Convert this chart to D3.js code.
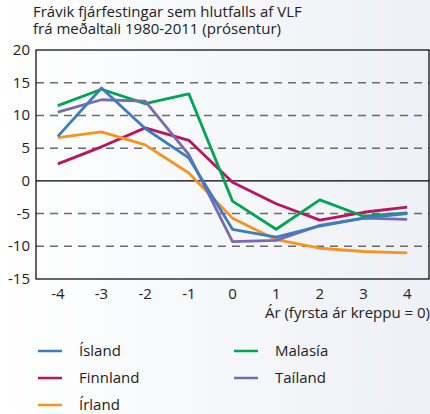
<!DOCTYPE html>
<html>
<head>
<meta charset="utf-8">
<script src="https://cdn.jsdelivr.net/npm/d3@7"></script>
<style>
  body { margin: 0; }
  svg { display: block; font-family: "Open Sans", sans-serif; }
</style>
</head>
<body>
<svg width="430" height="414"></svg>
<script>
// Years relative to first crisis year
const years = [-4, -3, -2, -1, 0, 1, 2, 3, 4];
const yTicks = [-15, -10, -5, 0, 5, 10, 15, 20];

const island = [6.8, 14.2, 8.0, 3.5, -7.4, -8.6, -6.9, -5.7, -5.0];
const finnland = [2.6, 5.2, 8.1, 6.2, -0.2, -3.5, -6.0, -4.8, -4.0];
const irland = [6.6, 7.5, 5.5, 1.2, -5.7, -9.0, -10.3, -10.8, -11.0];
const malasia = [11.5, 14.0, 11.8, 13.3, -3.1, -7.4, -2.9, -5.4, -4.9];
const tailand = [10.5, 12.4, 12.2, 4.0, -9.3, -9.1, -6.8, -5.7, -5.9];

const series = [
  { name: "Finnland", values: finnland, color: "#c0135f" },
  { name: "Írland", values: irland, color: "#f7941d" },
  { name: "Malasía", values: malasia, color: "#00a651" },
  { name: "Taíland", values: tailand, color: "#7a6ab4" },
  { name: "Ísland", values: island, color: "#3b7dc1" },
];

const svg = d3.select("svg");
const plot = { left: 36, right: 429, top: 50, bottom: 279 };

// background gradient
const grad = svg.append("defs").append("linearGradient")
  .attr("id", "bg").attr("x1", 0).attr("x2", 1).attr("y1", 0).attr("y2", 0);
grad.append("stop").attr("offset", "0%").attr("stop-color", "#ffffff");
grad.append("stop").attr("offset", "100%").attr("stop-color", "#edf0f6");
svg.append("rect").attr("width", 430).attr("height", 414).attr("fill", "url(#bg)");

const x = d3.scalePoint().domain(years).range([plot.left, plot.right]).padding(0.5);
const y = d3.scaleLinear().domain([-15, 20]).range([plot.bottom, plot.top]);

// title
const title = svg.append("text").attr("font-size", 15).attr("fill", "#222");
title.append("tspan").attr("x", 33).attr("y", 17).text("Frávik fjárfestingar sem hlutfalls af VLF");
title.append("tspan").attr("x", 33).attr("y", 34).text("frá meðaltali 1980-2011 (prósentur)");

// dashed gridlines
svg.append("g").selectAll("line")
  .data(yTicks.filter(d => d !== 0 && d !== 20 && d !== -15))
  .join("line")
  .attr("x1", plot.left).attr("x2", plot.right)
  .attr("y1", d => y(d)).attr("y2", d => y(d))
  .attr("stroke", "#6b6b6b").attr("stroke-width", 1.5)
  .attr("stroke-dasharray", "8,6");

// zero line
svg.append("line")
  .attr("x1", plot.left).attr("x2", plot.right)
  .attr("y1", y(0)).attr("y2", y(0))
  .attr("stroke", "#000").attr("stroke-width", 1.2);

// frame
svg.append("rect")
  .attr("x", plot.left).attr("y", plot.top)
  .attr("width", plot.right - plot.left).attr("height", plot.bottom - plot.top)
  .attr("fill", "none").attr("stroke", "#000").attr("stroke-width", 1.2);

// y tick labels
svg.append("g").selectAll("text")
  .data(yTicks)
  .join("text")
  .attr("x", 30).attr("y", d => y(d) + 5)
  .attr("text-anchor", "end").attr("font-size", 15).attr("fill", "#222")
  .text(d => d);

// x tick labels
svg.append("g").selectAll("text")
  .data(years)
  .join("text")
  .attr("x", d => x(d)).attr("y", 299)
  .attr("text-anchor", "middle").attr("font-size", 15).attr("fill", "#222")
  .text(d => d);

svg.append("text")
  .attr("x", 430).attr("y", 318)
  .attr("text-anchor", "end").attr("font-size", 15).attr("fill", "#222")
  .text("Ár (fyrsta ár kreppu = 0)");

// lines
const line = d3.line().x((d, i) => x(years[i])).y(d => y(d));
svg.append("g").selectAll("path")
  .data(series)
  .join("path")
  .attr("d", d => line(d.values))
  .attr("fill", "none")
  .attr("stroke", d => d.color)
  .attr("stroke-width", 2.8)
  .attr("stroke-linejoin", "round");

// legend
const legendItems = [
  { name: "Ísland", col: 0, row: 0 },
  { name: "Finnland", col: 0, row: 1 },
  { name: "Írland", col: 0, row: 2 },
  { name: "Malasía", col: 1, row: 0 },
  { name: "Taíland", col: 1, row: 1 },
];
const colorOf = name => series.find(s => s.name === name).color;
const lg = svg.append("g").selectAll("g")
  .data(legendItems)
  .join("g")
  .attr("transform", d => `translate(${d.col ? 234 : 38}, ${351 + d.row * 27})`);
lg.append("line")
  .attr("x1", 0).attr("x2", 24)
  .attr("stroke", d => colorOf(d.name)).attr("stroke-width", 2.5);
lg.append("text")
  .attr("x", 41).attr("y", 5)
  .attr("font-size", 15).attr("fill", "#222")
  .text(d => d.name);
</script>
</body>
</html>
